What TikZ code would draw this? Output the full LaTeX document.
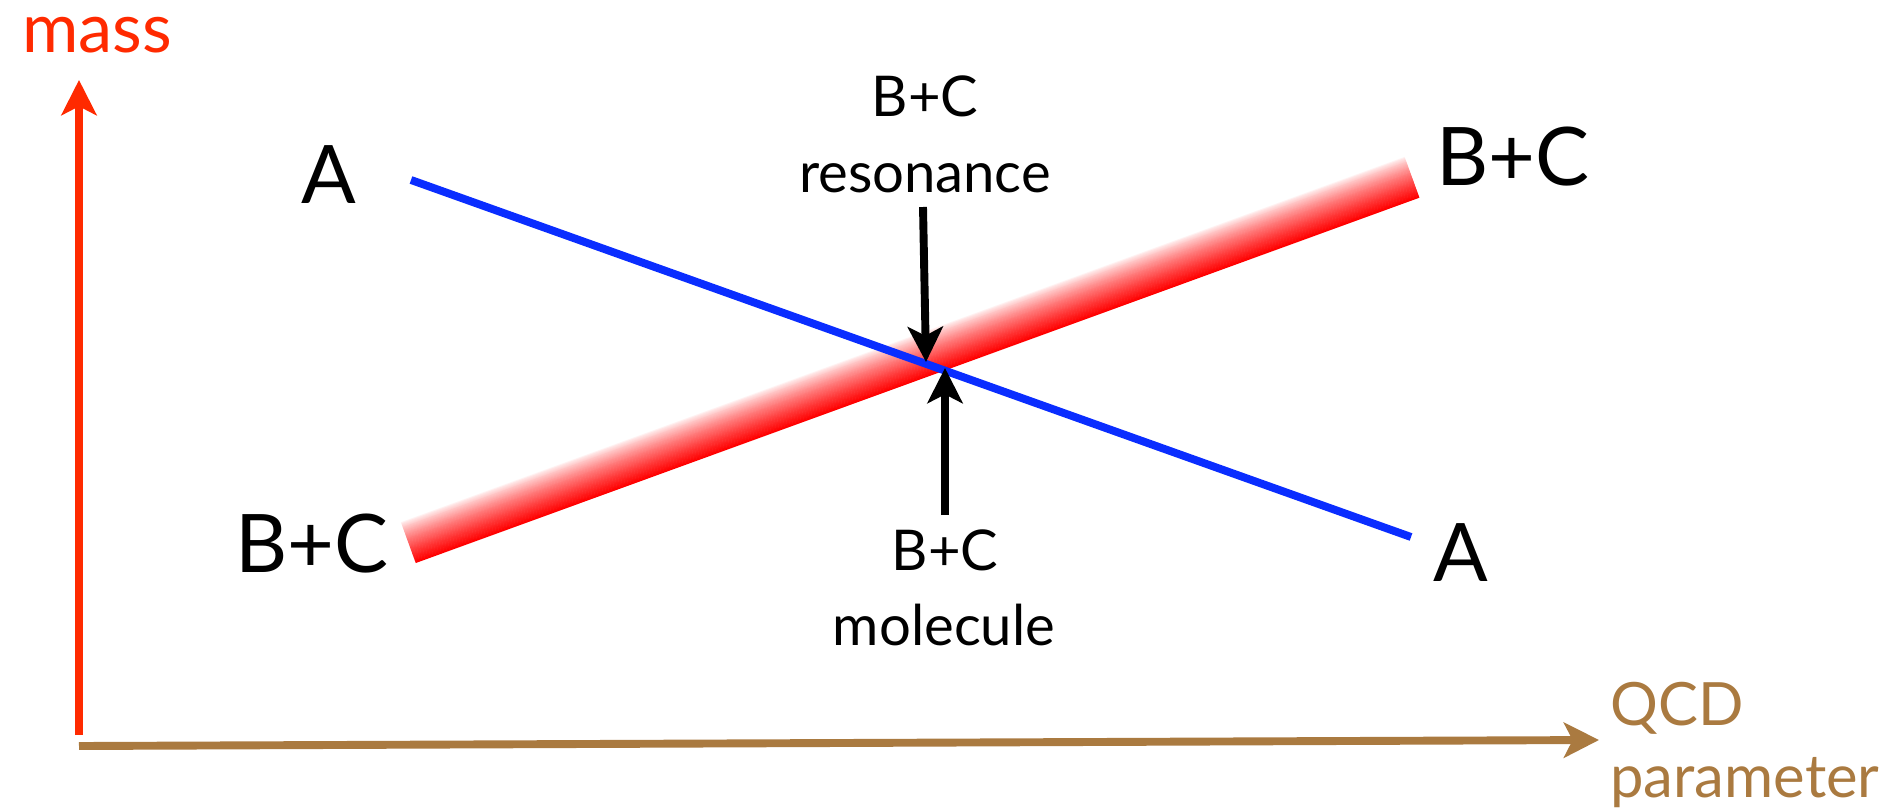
\documentclass[tikz,border=0pt]{standalone}
\usepackage{fontspec}
\setmainfont{Lato}
\usetikzlibrary{arrows.meta}
\definecolor{massred}{RGB}{255,42,0}
\definecolor{qcdbrown}{RGB}{170,122,64}
\definecolor{lineblue}{RGB}{10,45,255}

\begin{document}
\begin{tikzpicture}[x=0.02cm, y=-0.02cm,
    lbl/.style={inner sep=0pt, anchor=base, font=\fontsize{32}{38}\selectfont},
    groot/.style={inner sep=0pt, anchor=base, font=\fontsize{46}{54}\selectfont},
    astekst/.style={inner sep=0pt, font=\fontsize{34}{40}\selectfont},
    pijl/.style={line width=4.5pt, -{Stealth[length=20pt,width=20pt,inset=5pt]}}]
    \useasboundingbox (0,0) rectangle (1895,811);

    % axes
    \coordinate (yvoet) at (79,735);
    \coordinate (ytop) at (79,80);
    \coordinate (xvoet) at (79,746);
    \coordinate (xtop) at (1599,740);
    \draw[pijl, massred] (yvoet) -- (ytop);
    \draw[pijl, qcdbrown] (xvoet) -- (xtop);
    \node[astekst, text=massred, anchor=base, font=\fontsize{39}{44}\selectfont] (mass) at (97,53) {mass};
    \node[astekst, text=qcdbrown, anchor=base west] (qcd) at (1610,725) {QCD};
    \node[astekst, text=qcdbrown, anchor=base west] (param) at (1610,797) {parameter};

    % B+C band, red below fading to white above
    \begin{scope}[shift={(910,359.5)}, rotate=20]
        \foreach \o in {0,...,43} {
            \pgfmathtruncatemacro\p{100*(\o/43)^0.75}
            \draw[line width=0.8pt, red!\p!white] (-534,\o-21.5) -- (534,\o-21.5);
        }
    \end{scope}

    % A level
    \coordinate (Alinks) at (411,180);
    \coordinate (Arechts) at (1411,537);
    \draw[line width=4.5pt, lineblue] (Alinks) -- (Arechts);

    % end labels
    \node[groot] (Aboven) at (329,203) {A};
    \node[groot] (Aonder) at (1461,581) {A};
    \node[groot] (BCboven) at (1513,185) {B+C};
    \node[groot] (BConder) at (312,572) {B+C};

    % resonance
    \node[lbl] (resBC) at (925,116) {B+C};
    \node[lbl] (res) at (925,192) {resonance};
    \coordinate (resstart) at (923,207);
    \coordinate (respunt) at (926,362);
    \draw[pijl] (resstart) -- (respunt);

    % molecule
    \node[lbl] (molBC) at (945,570) {B+C};
    \node[lbl] (mol) at (944,645) {molecule};
    \coordinate (molstart) at (945,515);
    \coordinate (molpunt) at (945,368);
    \draw[pijl] (molstart) -- (molpunt);
\end{tikzpicture}
\end{document}
